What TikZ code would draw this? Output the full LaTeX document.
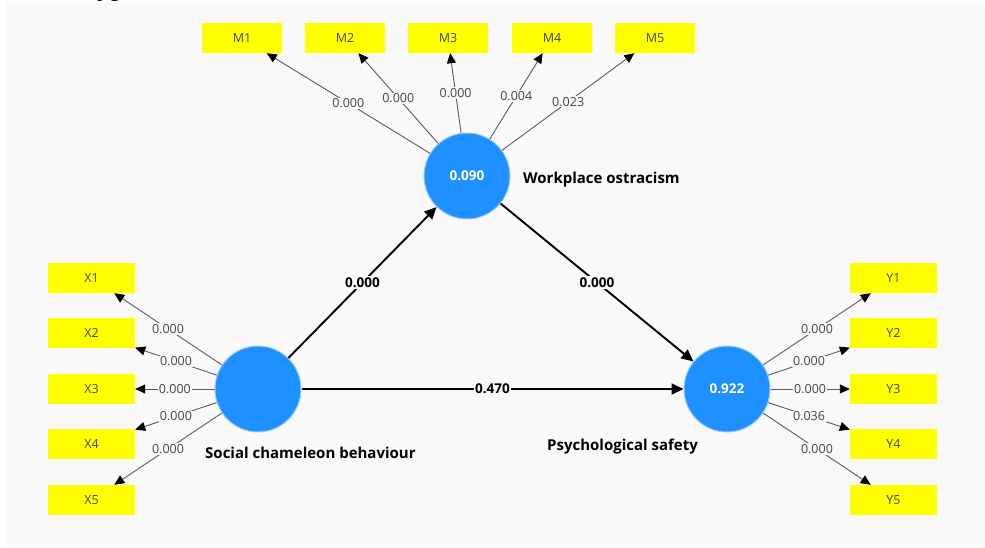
\documentclass[tikz,border=0pt]{standalone}
\usepackage{fontspec}
\setmainfont{Open Sans}
\newfontfamily\seriffont{Liberation Serif}
\usetikzlibrary{arrows.meta}
\definecolor{panel}{HTML}{F9F9F9}
\definecolor{lvblue}{HTML}{1E90FF}
\definecolor{lvrim}{HTML}{9CCBFF}
\definecolor{ind}{HTML}{FFFF00}
\definecolor{lbl}{HTML}{444444}
\definecolor{ldline}{HTML}{5A5A5A}
\begin{document}
\begin{tikzpicture}[x=1pt,y=-1pt,
 indbox/.style={fill=ind, minimum width=87pt, minimum height=30pt, inner sep=0pt, font=\fontsize{12.5}{14}\selectfont, text=lbl},
 mbox/.style={indbox, minimum width=80pt},
 latent/.style={circle, fill=lvblue, draw=lvrim, line width=1pt, minimum size=86pt, inner sep=0pt, text=white, font=\bfseries\fontsize{13.5}{16}\selectfont},
 loadarrow/.style={draw=ldline, line width=0.9pt, -{Triangle[length=10pt,width=9pt,color=black]}},
 loadlbl/.style={fill=panel, inner sep=1pt, font=\fontsize{12.5}{14}\selectfont, text=lbl},
 patharrow/.style={draw=black, line width=1.9pt, -{Triangle[length=12pt,width=11pt]}},
 pathlbl/.style={fill=panel, inner sep=1.5pt, font=\bfseries\fontsize{13.5}{16}\selectfont},
 cname/.style={anchor=west, inner sep=0pt, font=\bfseries\fontsize{15}{18}\selectfont}
]
\useasboundingbox (0,0) rectangle (985,547);
\fill[white] (0,0) rectangle (985,547);
\fill[panel] (6,3) rectangle (985,545);
\node[anchor=base west, font=\seriffont\fontsize{28}{30}\selectfont, inner sep=0pt] (frag) at (97,-4.5) {ype};

% latent variables
\node[latent] (W) at (467,176) {0.090};
\node[latent] (S) at (258,389) {};
\node[latent] (P) at (727,389) {0.922};

\node[cname] (Wn) at (523,180) {Workplace ostracism};
\node[cname] (Sn) at (205,453) {Social chameleon behaviour};
\node[cname] (Pn) at (547,447) {Psychological safety};

% indicators
\node[mbox] (M1) at (242,38) {M1};
\node[mbox] (M2) at (345,38) {M2};
\node[mbox] (M3) at (448,38) {M3};
\node[mbox] (M4) at (552,38) {M4};
\node[mbox] (M5) at (655,38) {M5};

\node[indbox] (X1) at (91.5,278) {X1};
\node[indbox] (X2) at (91.5,333) {X2};
\node[indbox] (X3) at (91.5,389) {X3};
\node[indbox] (X4) at (91.5,444) {X4};
\node[indbox] (X5) at (91.5,500) {X5};

\node[indbox] (Y1) at (893.5,278) {Y1};
\node[indbox] (Y2) at (893.5,333) {Y2};
\node[indbox] (Y3) at (893.5,389) {Y3};
\node[indbox] (Y4) at (893.5,444) {Y4};
\node[indbox] (Y5) at (893.5,500) {Y5};

% loadings
\draw[loadarrow] (W) -- node[loadlbl]{0.000} (M1);
\draw[loadarrow] (W) -- node[loadlbl]{0.000} (M2);
\draw[loadarrow] (W) -- node[loadlbl]{0.000} (M3);
\draw[loadarrow] (W) -- node[loadlbl]{0.004} (M4);
\draw[loadarrow] (W) -- node[loadlbl]{0.023} (M5);

\draw[loadarrow] (S) -- node[loadlbl]{0.000} (X1);
\draw[loadarrow] (S) -- node[loadlbl]{0.000} (X2);
\draw[loadarrow] (S) -- node[loadlbl]{0.000} (X3);
\draw[loadarrow] (S) -- node[loadlbl]{0.000} (X4);
\draw[loadarrow] (S) -- node[loadlbl]{0.000} (X5);

\draw[loadarrow] (P) -- node[loadlbl]{0.000} (Y1);
\draw[loadarrow] (P) -- node[loadlbl]{0.000} (Y2);
\draw[loadarrow] (P) -- node[loadlbl]{0.000} (Y3);
\draw[loadarrow] (P) -- node[loadlbl]{0.036} (Y4);
\draw[loadarrow] (P) -- node[loadlbl]{0.000} (Y5);

% structural paths
\draw[patharrow] (S) -- node[pathlbl]{0.000} (W);
\draw[patharrow] (W) -- node[pathlbl]{0.000} (P);
\draw[patharrow] (S) -- node[pathlbl]{0.470} (P);
\end{tikzpicture}
\end{document}
